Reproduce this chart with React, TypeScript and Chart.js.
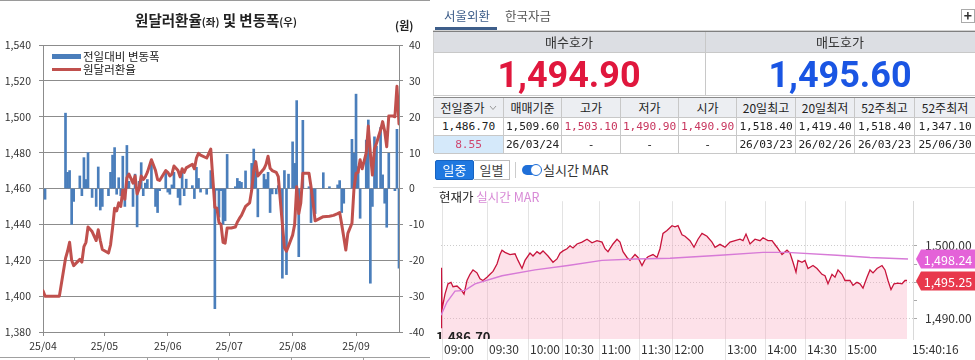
import React, { useEffect, useRef } from "react";
import { Chart, registerables } from "chart.js";

Chart.register(...registerables);

const FONT = '"Noto Sans CJK KR", "Noto Sans", sans-serif';
const MONO = '"DejaVu Sans Mono", "Liberation Mono", monospace';

// ===================== Left chart data: 원달러환율(좌) 및 변동폭(우) =====================
const rateDates = [
  "04/01", "04/02", "04/03", "04/04", "04/07", "04/08", "04/09", "04/12", "04/13", "04/14",
  "04/15", "04/16", "04/19", "04/20", "04/21", "04/22", "04/23", "04/25", "04/27", "04/28",
  "04/29", "04/30", "05/03", "05/04", "05/05", "05/06", "05/07", "05/08", "05/09", "05/10",
  "05/11", "05/12", "05/13", "05/15", "05/16", "05/17", "05/18", "05/19", "05/20", "05/21",
  "05/22", "05/24", "05/26", "05/27", "05/28", "05/31", "06/01", "06/02", "06/03", "06/04",
  "06/06", "06/07", "06/08", "06/09", "06/10", "06/13", "06/14", "06/15", "06/16", "06/17",
  "06/20", "06/22", "06/24", "06/25", "06/26", "06/27", "06/28", "06/29", "06/30", "07/02",
  "07/04", "07/05", "07/06", "07/07", "07/09", "07/11", "07/12", "07/13", "07/14", "07/15",
  "07/18", "07/19", "07/20", "07/21", "07/22", "07/24", "07/25", "07/27", "07/28", "07/29",
  "07/30", "08/01", "08/02", "08/03", "08/04", "08/05", "08/06", "08/09", "08/10", "08/11",
  "08/12", "08/16", "08/19", "08/21", "08/23", "08/24", "08/25", "08/26", "08/27", "08/28",
  "08/30", "08/31", "09/01", "09/02", "09/03", "09/04", "09/06", "09/07", "09/08", "09/09",
  "09/10", "09/11", "09/12", "09/13", "09/14", "09/15", "09/16", "09/17", "09/19", "09/20",
  "09/21", "09/22",
];
const rateValues = [
  1403, 1400, 1400, 1400, 1400, 1400, 1400, 1421, 1425, 1430,
  1420, 1417, 1420.5, 1419, 1427.6, 1430, 1438.5, 1436, 1431, 1437,
  1431, 1426, 1424, 1428.5, 1438, 1449, 1447.5, 1452, 1450, 1459,
  1454, 1466, 1468, 1463, 1467, 1457, 1460, 1467, 1465, 1466.5,
  1469, 1476, 1470, 1465, 1464.5, 1470, 1469, 1467, 1468, 1472.5,
  1470, 1466.5, 1471, 1469, 1471.5, 1473.5, 1471, 1477, 1479.6, 1478.6,
  1477, 1482, 1449.5, 1449, 1441, 1440, 1430, 1429.5, 1438, 1438,
  1438.5, 1441.3, 1443.3, 1445, 1450, 1452, 1459, 1470, 1475, 1467,
  1471, 1473.5, 1478, 1471.3, 1470, 1469, 1466.6, 1440, 1427, 1425,
  1428, 1434, 1440, 1461, 1446, 1452, 1468.5, 1468.5, 1461, 1452,
  1442, 1444.3, 1444.5, 1445, 1446, 1446.6, 1440, 1433, 1425.7, 1435,
  1440.6, 1460, 1468.5, 1469, 1476, 1471, 1480, 1494.8, 1479.6, 1467.5,
  1482, 1485.2, 1489, 1492.6, 1497.3, 1492, 1483.3, 1500.4, 1500.4, 1500,
  1517, 1496,
];
const changeValues = [
  null, -3, null, null, null, null, null, 21, 4.5, 5,
  -10, -3.6, 3.5, -2, 8.6, 2.5, 10, -2.5, -5, 6,
  -6, -5, -2, 4.5, 9.3, 11.4, -1.6, 3, -2, 9,
  -5, 12, 2, -5, 4, -10.7, 2, 7.2, -2, 1.5,
  2.5, 7, -5, -6.7, -0.6, 4.5, -1, -1.6, 1, 4.5,
  -2.5, -4.6, 4.5, -2, 2.6, 0.8, -2.8, 5.9, 2.8, -1,
  -1.6, 5, -33.5, -0.5, -8, -0.6, -10, -9, 9.5, null,
  0.5, 2.8, 2, 1.7, 4.9, null, 7, 11, 5, -7.9,
  4, 2.5, 4.5, -6.7, -1.5, -1.5, 0.8, -25, 5, -24,
  4, 13, 7, 24.5, -19, null, 19, 0.5, -9.5, -5,
  -7, 4.4, 0.5, null, 1, 2.2, -6.7, -4.1, null, null,
  13.7, 9.8, 26.3, 6.1, -8.3, null, 13.5, 19.1, -26.4, -5,
  14.4, 11.8, null, 17, 3.8, -4.1, -10.8, 9.8, null, -0.6,
  16.5, -22.2,
];
const axisStartDate = "04/01";
const axisEndDate = "09/22";
const monthTickDates = ["04/01", "05/01", "06/01", "07/01", "08/01", "09/01"];
const monthTickLabels = ["25/04", "25/05", "25/06", "25/07", "25/08", "25/09"];
const rateAxisTicks = [1380, 1400, 1420, 1440, 1460, 1480, 1500, 1520, 1540];
const changeAxisTicks = [-40, -30, -20, -10, 0, 10, 20, 30, 40];
const barLegend = "전일대비 변동폭";
const lineLegend = "원달러환율";

// ===================== Right panel data =====================
const tabLabels = ["서울외환", "한국자금"];
const quoteHeaders = ["매수호가", "매도호가"];
const quoteValues = ["1,494.90", "1,495.60"];
const tableHeaders = ["전일종가", "매매기준", "고가", "저가", "시가", "20일최고", "20일최저", "52주최고", "52주최저"];
const tableRow1 = ["1,486.70", "1,509.60", "1,503.10", "1,490.90", "1,490.90", "1,518.40", "1,419.40", "1,518.40", "1,347.10"];
const tableRow2 = ["8.55", "26/03/24", "-", "-", "-", "26/03/23", "26/02/26", "26/03/23", "25/06/30"];
const modeButtons = ["일중", "일별"];
const realtimeLabel = "실시간 MAR";
const chartTitleMain = "현재가";
const chartTitleSub = "실시간 MAR";

// intraday price (tick index, price)
const intradayIdx = [
  0, 0.5, 1, 4, 7, 10, 12, 16, 20, 23,
  26, 29, 32, 36, 39, 42, 46, 49, 52, 56,
  59, 61, 64, 69, 74, 77, 81, 84, 89, 92,
  96, 99, 102, 107, 112, 116, 119, 122, 126, 129,
  132, 136, 141, 146, 151, 156, 161, 164, 167, 172,
  176, 179, 182, 186, 189, 194, 197, 201, 204, 207,
  212, 216, 219, 222, 226, 231, 234, 237, 241, 244,
  249, 253, 257, 261, 266, 271, 274, 279, 284, 289,
  294, 299, 302, 305, 309, 314, 319, 322, 327, 331,
  336, 341, 346, 349, 352, 355, 357, 361, 364, 367,
  372, 376, 381, 384, 387, 391, 394, 397, 401, 404,
  409, 412, 416, 419, 422, 426, 429, 432, 436, 441,
  444, 447, 450, 453, 457, 461, 464, 466,
];
const intradayVal = [
  1488.8, 1497.0, 1491.3, 1493.4, 1494.8, 1495.0, 1494.4, 1494.5, 1494.0, 1493.4,
  1495.25, 1496.1, 1496.7, 1496.3, 1495.5, 1495.25, 1495.7, 1496.1, 1496.5, 1497.5,
  1498.8, 1499.4, 1499.1, 1498.8, 1498.9, 1498.0, 1496.9, 1498.0, 1499.0, 1498.6,
  1499.2, 1498.9, 1499.3, 1498.6, 1497.75, 1498.2, 1499.0, 1499.3, 1499.6, 1500.0,
  1499.7, 1500.25, 1500.5, 1500.9, 1500.4, 1500.7, 1500.5, 1499.6, 1499.2, 1500.25,
  1500.9, 1500.5, 1499.2, 1498.4, 1498.0, 1498.8, 1498.4, 1497.3, 1498.1, 1498.5,
  1498.8, 1498.4, 1499.6, 1501.7, 1502.1, 1502.75, 1502.6, 1502.75, 1501.5, 1501.3,
  1500.7, 1499.8, 1500.9, 1501.7, 1501.3, 1500.5, 1499.8, 1500.2, 1499.8, 1500.5,
  1500.7, 1500.9, 1500.7, 1501.6, 1500.25, 1500.9, 1500.7, 1501.1, 1500.7, 1500.7,
  1499.8, 1498.8, 1499.4, 1499.0, 1497.75, 1496.4, 1498.0, 1497.75, 1498.0, 1496.9,
  1497.3, 1496.9, 1496.1, 1495.9, 1494.8, 1496.1, 1495.7, 1496.7, 1496.1, 1495.25,
  1495.25, 1494.6, 1495.0, 1494.8, 1494.2, 1495.7, 1496.7, 1496.3, 1496.9, 1497.3,
  1496.7, 1495.25, 1494.0, 1494.8, 1494.9, 1494.8, 1495.25, 1495.25,
];
const marIdx = [0, 6, 14, 24, 34, 61, 94, 127, 161, 194, 229, 279, 322, 346, 396, 429, 467];
const marVal = [1490.5, 1492.3, 1493.8, 1493.9, 1494.8, 1495.9, 1496.7, 1497.3, 1498.0, 1498.2, 1498.3, 1498.7, 1499.1, 1499.1, 1498.7, 1498.4, 1498.2];
const timeTickIdx = [1, 46, 87, 121, 158, 198, 231, 284, 324, 364, 404, 469];
const timeTickLabels = ["09:00", "09:30", "10:00", "10:30", "11:00", "11:30", "12:00", "13:00", "14:00", "14:30", "15:00", "15:40:16"];
const priceAxisTicks = [1490, 1492.5, 1495, 1497.5, 1500];
const priceAxisLabelled = [1490, 1500];
const prevClose = 1486.7;
const marLatest = 1498.24;
const priceLatest = 1495.25;

// ===================== helpers =====================
const dayOf = (md: string) => {
  const [m, d] = md.split("/").map(Number);
  return Math.round((Date.UTC(2025, m - 1, d) - Date.UTC(2025, 3, 1)) / 86400000);
};
const fmt = (v: number, dec = 0) => {
  const s = Math.abs(v).toFixed(dec);
  const [i, f] = s.split(".");
  const w = i.replace(/\B(?=(\d{3})+(?!\d))/g, ",");
  return (v < 0 ? "-" : "") + w + (f ? "." + f : "");
};

const BAR = "#4a7ebb";
const LINE = "#c0504d";
const GRID = "#8c8c8c";

const colEdges = [433, 503, 561, 620, 678, 736, 795, 854, 914, 975];
const rowEdges = [97, 117, 135, 153];

export default function App() {
  const leftRef = useRef<HTMLCanvasElement>(null);
  const rightRef = useRef<HTMLCanvasElement>(null);

  useEffect(() => {
    document.body.style.margin = "0";
    const xs = rateDates.map(dayOf);
    const tickFont = { family: FONT, size: 10.5 };

    const left = new Chart(leftRef.current as HTMLCanvasElement, {
      type: "bar",
      data: {
        datasets: [
          {
            type: "line",
            label: lineLegend,
            data: xs.map((x, i) => ({ x, y: rateValues[i] })),
            yAxisID: "y",
            borderColor: LINE,
            borderWidth: 3,
            pointRadius: 0,
            tension: 0,
            borderJoinStyle: "round",
            borderCapStyle: "round",
            order: 0,
          } as any,
          {
            type: "bar",
            label: barLegend,
            data: xs.map((x, i) => ({ x, y: changeValues[i] })),
            yAxisID: "y2",
            backgroundColor: BAR,
            barThickness: 2,
            order: 1,
          } as any,
        ],
      },
      options: {
        responsive: false,
        animation: false,
        events: [],
        layout: { padding: { top: 45, left: 0, right: 0, bottom: 0 } },
        plugins: { legend: { display: false }, tooltip: { enabled: false } },
        scales: {
          x: {
            type: "linear",
            min: dayOf(axisStartDate),
            max: dayOf(axisEndDate),
            offset: false,
            afterBuildTicks: (s: any) => {
              s.ticks = monthTickDates.map((d) => ({ value: dayOf(d) }));
            },
            afterFit: (s: any) => {
              s.height = 25;
            },
            ticks: {
              autoSkip: false,
              maxRotation: 0,
              padding: 4,
              font: tickFont,
              color: "#333",
              callback: (_v: any, i: number) => monthTickLabels[i],
            },
            grid: { drawOnChartArea: false, drawTicks: true, tickLength: 4, color: GRID, offset: false },
            border: { color: GRID },
          },
          y: {
            position: "left",
            min: 1380,
            max: 1540,
            afterBuildTicks: (s: any) => {
              s.ticks = rateAxisTicks.map((v) => ({ value: v }));
            },
            afterFit: (s: any) => {
              s.width = 43;
            },
            ticks: { padding: 8, font: tickFont, color: "#333", callback: (v: any) => fmt(Number(v)) },
            grid: { color: GRID, tickLength: 4 },
            border: { color: GRID },
          },
          y2: {
            position: "right",
            min: -40,
            max: 40,
            afterBuildTicks: (s: any) => {
              s.ticks = changeAxisTicks.map((v) => ({ value: v }));
            },
            afterFit: (s: any) => {
              s.width = 31;
            },
            ticks: { padding: 6, font: tickFont, color: "#333", callback: (v: any) => String(v) },
            grid: { drawOnChartArea: false, color: GRID, tickLength: 4 },
            border: { color: GRID },
          },
        } as any,
      },
    });

    const labelPlugin = {
      id: "intradayLabels",
      afterDraw(chart: any) {
        const { ctx, chartArea, scales } = chart;
        const ys = scales.y;
        ctx.save();
        ctx.beginPath();
        ctx.rect(0, 0, chartArea.left + 80, chartArea.bottom);
        ctx.clip();
        ctx.font = `bold 13px ${FONT}`;
        ctx.fillStyle = "#222";
        ctx.textAlign = "left";
        ctx.textBaseline = "alphabetic";
        ctx.fillText(fmt(prevClose, 2), 4, ys.getPixelForValue(prevClose) - 1);
        ctx.restore();

        const box = (val: number, color: string) => {
          const yy = Math.round(ys.getPixelForValue(val));
          const x0 = chartArea.right + 3;
          const x1 = x0 + 5;
          const x2 = chart.width;
          const h = 19;
          ctx.save();
          ctx.beginPath();
          ctx.moveTo(x0, yy);
          ctx.lineTo(x1, yy - h / 2);
          ctx.lineTo(x2, yy - h / 2);
          ctx.lineTo(x2, yy + h / 2);
          ctx.lineTo(x1, yy + h / 2);
          ctx.closePath();
          ctx.fillStyle = color;
          ctx.fill();
          ctx.fillStyle = "#fff";
          ctx.font = `12.5px ${FONT}`;
          ctx.textAlign = "center";
          ctx.textBaseline = "middle";
          ctx.fillText(fmt(val, 2), (x1 + x2) / 2, yy + 1);
          ctx.restore();
        };
        box(marLatest, "#e462d8");
        box(priceLatest, "#e8384c");
      },
    };

    const right = new Chart(rightRef.current as HTMLCanvasElement, {
      type: "line",
      data: {
        datasets: [
          {
            label: "MAR",
            data: marIdx.map((x, i) => ({ x, y: marVal[i] })),
            borderColor: "#d77ad7",
            borderWidth: 1.4,
            pointRadius: 0,
            fill: false,
            order: 0,
          },
          {
            label: chartTitleMain,
            data: intradayIdx.map((x, i) => ({ x, y: intradayVal[i] })),
            borderColor: "#c8143c",
            borderWidth: 1.3,
            pointRadius: 0,
            fill: "start",
            backgroundColor: "rgba(250, 165, 188, 0.33)",
            order: 1,
          },
        ] as any,
      },
      options: {
        responsive: false,
        animation: false,
        events: [],
        layout: { padding: { left: 9, top: 2, right: 0, bottom: 0 } },
        plugins: { legend: { display: false }, tooltip: { enabled: false } },
        scales: {
          x: {
            type: "linear",
            min: 0,
            max: 472,
            afterBuildTicks: (s: any) => {
              s.ticks = timeTickIdx.map((v) => ({ value: v }));
            },
            afterFit: (s: any) => {
              s.height = 21;
            },
            ticks: {
              autoSkip: false,
              maxRotation: 0,
              align: "start",
              labelOffset: 2,
              padding: -18,
              font: { family: FONT, size: 12 },
              color: "#333",
              callback: (_v: any, i: number) => timeTickLabels[i],
            },
            grid: {
              color: (c: any) => (c.index === timeTickIdx.length - 1 ? "rgba(0,0,0,0)" : "#e3e3e3"),
              tickLength: 21,
              drawTicks: true,
            },
            border: { display: false },
          },
          y: {
            position: "right",
            min: 1487.25,
            max: 1506.1,
            afterBuildTicks: (s: any) => {
              s.ticks = priceAxisTicks.map((v) => ({ value: v }));
            },
            afterFit: (s: any) => {
              s.width = 62;
            },
            ticks: {
              padding: 8,
              font: { family: FONT, size: 12 },
              color: "#333",
              callback: (v: any) => (priceAxisLabelled.includes(Number(v)) ? fmt(Number(v), 2) : ""),
            },
            grid: {
              color: (c: any) => (c.tick && c.tick.value % 5 === 0 ? "#cccccc" : "rgba(0,0,0,0)"),
              tickColor: "#aaaaaa",
              tickLength: 4,
            },
            border: { display: true, color: "#d9d9d9", dash: [1, 2] },
          },
        } as any,
      },
      plugins: [labelPlugin],
    });

    return () => {
      left.destroy();
      right.destroy();
    };
  }, []);

  const abs = (s: any) => ({ position: "absolute" as const, ...s });

  return (
    <div
      style={{
        position: "fixed",
        left: 0,
        top: 0,
        width: 975,
        height: 360,
        background: "#fff",
        overflow: "hidden",
        fontFamily: FONT,
        color: "#222",
      }}
    >
      {/* ============ LEFT CHART ============ */}
      <div style={abs({ left: 0, top: 0, width: 430, height: 1, background: "#9a9a9a" })} />
      <canvas ref={leftRef} width={430} height={357} style={abs({ left: 0, top: 0 })} />
      <div
        style={abs({
          left: 0,
          top: 10,
          width: 432,
          textAlign: "center",
          fontWeight: 700,
          fontSize: 14.5,
          lineHeight: "20px",
          whiteSpace: "nowrap",
        })}
      >
        원달러환율<span style={{ fontSize: 10.5 }}>(좌)</span> 및 변동폭<span style={{ fontSize: 10.5 }}>(우)</span>
      </div>
      <div style={abs({ left: 395, top: 18, fontSize: 11, fontWeight: 700, lineHeight: "14px" })}>(원)</div>
      <div style={abs({ left: 52, top: 54, width: 29, height: 5, background: BAR })} />
      <div style={abs({ left: 83, top: 49, fontSize: 11.5, lineHeight: "15px", whiteSpace: "nowrap" })}>{barLegend}</div>
      <div style={abs({ left: 52, top: 68, width: 29, height: 3, background: LINE })} />
      <div style={abs({ left: 83, top: 62, fontSize: 11.5, lineHeight: "15px", whiteSpace: "nowrap" })}>{lineLegend}</div>
      <div style={abs({ left: 0, top: 357, width: 430, height: 1, background: "#a0a0a0" })} />
      {[74, 147, 218, 291, 363].map((x) => (
        <div key={x} style={abs({ left: x, top: 357, width: 1, height: 3, background: "#a0a0a0" })} />
      ))}

      {/* ============ RIGHT PANEL ============ */}
      <div style={abs({ left: 444, top: 7, fontSize: 12.5, lineHeight: "18px", color: "#3e5e8a" })}>{tabLabels[0]}</div>
      <div style={abs({ left: 505, top: 7, fontSize: 12.5, lineHeight: "18px", color: "#555" })}>{tabLabels[1]}</div>
      <div style={abs({ left: 435, top: 27, width: 62, height: 2.5, background: "#3e5e8a" })} />
      <div style={abs({ left: 433, top: 29.5, width: 542, height: 1, background: "#d3d3d3" })} />
      <div
        style={abs({
          left: 961,
          top: 9,
          width: 14,
          height: 14,
          border: "1px solid #aaa",
          boxSizing: "border-box",
          fontSize: 14,
          fontWeight: 700,
          lineHeight: "11px",
          textAlign: "center",
          color: "#333",
        })}
      >
        +
      </div>

      {/* quote header */}
      <div style={abs({ left: 433, top: 31, width: 542, height: 1, background: "#808080" })} />
      <div style={abs({ left: 433, top: 32, width: 542, height: 20, background: "#dcdee3" })} />
      <div style={abs({ left: 433, top: 32, width: 272, height: 20, textAlign: "center", fontSize: 13, lineHeight: "20px", color: "#333" })}>
        {quoteHeaders[0]}
      </div>
      <div style={abs({ left: 705, top: 32, width: 270, height: 20, textAlign: "center", fontSize: 13, lineHeight: "20px", color: "#333" })}>
        {quoteHeaders[1]}
      </div>
      <div style={abs({ left: 433, top: 52, width: 542, height: 1, background: "#c8c8c8" })} />
      <div style={abs({ left: 705, top: 32, width: 1, height: 64, background: "#c8c8c8" })} />
      <div style={abs({ left: 433, top: 32, width: 1, height: 64, background: "#d0d0d0" })} />
      <div
        style={abs({
          left: 433,
          top: 53,
          width: 272,
          height: 43,
          textAlign: "center",
          fontFamily: "Roboto, sans-serif",
          fontWeight: 700,
          fontSize: 36,
          lineHeight: "45px",
          color: "#e0173d",
        })}
      >
        {quoteValues[0]}
      </div>
      <div
        style={abs({
          left: 705,
          top: 53,
          width: 270,
          height: 43,
          textAlign: "center",
          fontFamily: "Roboto, sans-serif",
          fontWeight: 700,
          fontSize: 36,
          lineHeight: "45px",
          color: "#1a55e3",
        })}
      >
        {quoteValues[1]}
      </div>
      <div style={abs({ left: 433, top: 95, width: 542, height: 1, background: "#cccccc" })} />

      {/* table */}
      <div style={abs({ left: 433, top: rowEdges[0], width: 542, height: 1, background: "#8a8a8a" })} />
      <div style={abs({ left: 433, top: rowEdges[0], width: 1, height: rowEdges[3] - rowEdges[0], background: "#c8c8c8" })} />
      {[tableHeaders, tableRow1, tableRow2].map((row, r) =>
        row.map((txt, c) => {
          const isHeader = r === 0;
          let color = "#222";
          let bg = isHeader ? "#eceef2" : "#fff";
          if (r === 1 && c >= 2 && c <= 4) color = "#c8375f";
          if (r === 2 && c === 0) {
            color = "#cf4770";
            bg = "#d5e9fa";
          }
          const numeric = !isHeader;
          return (
            <div
              key={`${r}-${c}`}
              style={abs({
                left: colEdges[c] + 1,
                top: rowEdges[r] + 1,
                width: colEdges[c + 1] - colEdges[c] - 1,
                height: rowEdges[r + 1] - rowEdges[r] - 1,
                background: bg,
                borderRight: c < row.length - 1 ? "1px solid #c8c8c8" : "none",
                borderBottom: "1px solid #c8c8c8",
                boxSizing: "content-box",
                display: "flex",
                alignItems: "center",
                justifyContent: "center",
                whiteSpace: "nowrap",
                fontFamily: numeric ? MONO : FONT,
                fontSize: numeric ? 11.2 : 12,
                letterSpacing: numeric ? -0.1 : 0,
                color,
              })}
            >
              {txt}
              {isHeader && c === 0 ? (
                <svg width="8" height="6" style={{ marginLeft: 4 }}>
                  <polyline points="1,1 4,4.5 7,1" fill="none" stroke="#999" strokeWidth="1" />
                </svg>
              ) : null}
            </div>
          );
        })
      )}

      {/* mode buttons */}
      <div
        style={abs({
          left: 435,
          top: 160,
          width: 39,
          height: 20,
          background: "#1f78e0",
          border: "1px solid #1763c0",
          boxSizing: "border-box",
          borderRadius: 2,
          color: "#fff",
          fontSize: 13,
          lineHeight: "18px",
          textAlign: "center",
        })}
      >
        {modeButtons[0]}
      </div>
      <div
        style={abs({
          left: 474,
          top: 160,
          width: 36,
          height: 20,
          background: "#fff",
          border: "1px solid #bbb",
          borderLeft: "none",
          boxSizing: "border-box",
          color: "#444",
          fontSize: 13,
          lineHeight: "18px",
          textAlign: "center",
        })}
      >
        {modeButtons[1]}
      </div>
      <div style={abs({ left: 515, top: 162, width: 1, height: 16, background: "#ccc" })} />
      <div style={abs({ left: 522, top: 165, width: 18, height: 10, borderRadius: 5, background: "#1f6fd8" })} />
      <div
        style={abs({
          left: 530,
          top: 164,
          width: 12,
          height: 12,
          borderRadius: 6,
          background: "#fff",
          border: "1.5px solid #1f6fd8",
          boxSizing: "border-box",
        })}
      />
      <div style={abs({ left: 543, top: 161, fontSize: 13, lineHeight: "18px", color: "#333", whiteSpace: "nowrap" })}>
        {realtimeLabel}
      </div>
      <div style={abs({ left: 433, top: 187, width: 542, height: 1, background: "#dddddd" })} />

      {/* intraday chart */}
      <canvas ref={rightRef} width={543} height={174} style={abs({ left: 432, top: 186 })} />
      <div style={abs({ left: 439, top: 188, fontSize: 12.5, lineHeight: "17px", whiteSpace: "nowrap" })}>
        <span style={{ color: "#222" }}>{chartTitleMain}</span>{" "}
        <span style={{ color: "#d88ad6" }}>{chartTitleSub}</span>
      </div>
    </div>
  );
}
